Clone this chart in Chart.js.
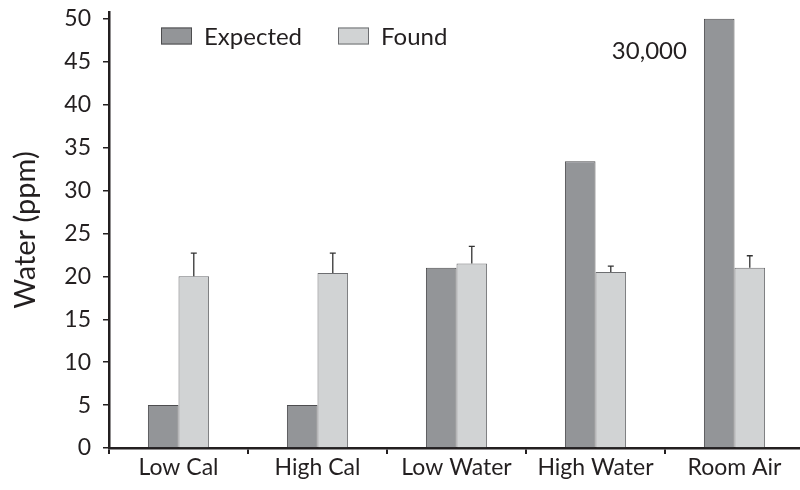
<!DOCTYPE html>
<html>
<head>
<meta charset="utf-8">
<script src="https://cdn.jsdelivr.net/npm/chart.js@4/dist/chart.umd.min.js"></script>
<style>
  html, body { margin: 0; padding: 0; background: #fff; overflow: hidden; }
  #wrap { width: 800px; height: 490px; overflow: hidden; }
</style>
</head>
<body>
<div id="wrap"><canvas id="waterChart" width="804" height="490"></canvas></div>
<script>
// Data
const categories = ['Low Cal', 'High Cal', 'Low Water', 'High Water', 'Room Air'];
const expectedValues = [5, 5, 21, 33.4, 50];
const foundValues = [20, 20.4, 21.5, 20.5, 21];
const foundErrors = [2.7, 2.3, 2.0, 0.7, 1.4];
const yTicks = [0, 5, 10, 15, 20, 25, 30, 35, 40, 45, 50];
const roomAirNote = '30,000';

const FONT = 'Lato, "Open Sans", sans-serif';
const INK = '#231f20';

// Error bars (upward only) on the Found series
const errorBars = {
    id: 'errorBars',
    afterDatasetsDraw(chart) {
        const ctx = chart.ctx;
        const y = chart.scales.y;
        const meta = chart.getDatasetMeta(1);
        ctx.save();
        ctx.strokeStyle = '#333';
        ctx.lineWidth = 1.3;
        meta.data.forEach((bar, i) => {
            const top = y.getPixelForValue(foundValues[i] + foundErrors[i]);
            const base = y.getPixelForValue(foundValues[i]);
            ctx.beginPath();
            ctx.moveTo(bar.x, base);
            ctx.lineTo(bar.x, top);
            ctx.moveTo(bar.x - 3, top);
            ctx.lineTo(bar.x + 3, top);
            ctx.stroke();
        });
        ctx.restore();
    }
};

// Note beside the Room Air Expected bar (its real value is off the scale)
const barNote = {
    id: 'barNote',
    afterDatasetsDraw(chart) {
        const ctx = chart.ctx;
        const bar = chart.getDatasetMeta(0).data[4];
        const y = chart.scales.y.getPixelForValue(46.2);
        ctx.save();
        ctx.font = '24px ' + FONT;
        ctx.fillStyle = INK;
        ctx.textAlign = 'right';
        ctx.textBaseline = 'middle';
        ctx.fillText(roomAirNote, bar.x - bar.width / 2 - 17, y);
        ctx.restore();
    }
};

// Legend drawn inside the plot area
const innerLegend = {
    id: 'innerLegend',
    afterDraw(chart) {
        const ctx = chart.ctx;
        const area = chart.chartArea;
        const items = [
            { ds: chart.data.datasets[0], x: area.left + 52 },
            { ds: chart.data.datasets[1], x: area.left + 229 }
        ];
        const yMid = 36;
        ctx.save();
        ctx.font = '24px ' + FONT;
        ctx.textBaseline = 'middle';
        ctx.textAlign = 'left';
        items.forEach(item => {
            ctx.fillStyle = item.ds.backgroundColor;
            ctx.fillRect(item.x, yMid - 8.5, 31, 17);
            ctx.strokeStyle = item.ds.borderColor;
            ctx.lineWidth = 1;
            ctx.strokeRect(item.x + 0.5, yMid - 8, 30, 16);
            ctx.fillStyle = INK;
            ctx.fillText(item.ds.label, item.x + 43, yMid + 1);
        });
        ctx.restore();
    }
};

const ctx = document.getElementById('waterChart').getContext('2d');
new Chart(ctx, {
    type: 'bar',
    data: {
        labels: categories,
        datasets: [{
            label: 'Expected',
            data: expectedValues,
            backgroundColor: '#939598',
            borderColor: '#4d4d4f',
            borderWidth: 1,
            borderSkipped: 'bottom'
        }, {
            label: 'Found',
            data: foundValues,
            backgroundColor: '#d1d3d4',
            borderColor: '#6d6e71',
            borderWidth: 1,
            borderSkipped: 'bottom'
        }]
    },
    options: {
        responsive: false,
        animation: false,
        layout: { padding: { top: 12, right: 0, bottom: 0, left: 0 } },
        datasets: {
            bar: { categoryPercentage: 0.44, barPercentage: 1 }
        },
        plugins: {
            legend: { display: false },
            tooltip: { enabled: false }
        },
        scales: {
            x: {
                grid: {
                    offset: true,
                    drawOnChartArea: false,
                    drawTicks: true,
                    tickLength: 6,
                    color: INK,
                    lineWidth: 2
                },
                border: { color: INK, width: 2.5 },
                ticks: {
                    color: INK,
                    font: { family: FONT, size: 23 },
                    padding: 0,
                    maxRotation: 0,
                    autoSkip: false
                },
                afterFit(scale) {
                    scale.height = 42;
                    scale.paddingLeft = 0;
                    scale.paddingRight = 0;
                }
            },
            y: {
                min: 0,
                max: 50.8,
                afterBuildTicks(scale) { scale.ticks = yTicks.map(v => ({ value: v })); },
                grid: {
                    drawOnChartArea: false,
                    drawTicks: true,
                    tickLength: 6,
                    color: INK,
                    lineWidth: 1.5
                },
                border: { color: INK, width: 2.5 },
                ticks: {
                    color: INK,
                    font: { family: FONT, size: 23 },
                    padding: 12
                },
                title: {
                    display: true,
                    text: 'Water (ppm)',
                    color: INK,
                    font: { family: FONT, size: 29 },
                    padding: { top: 8, bottom: 0 }
                },
                afterFit(scale) {
                    scale.width = 109;
                    scale.paddingTop = 0;
                    scale.paddingBottom = 0;
                }
            }
        }
    },
    plugins: [errorBars, barNote, innerLegend]
});
</script>
</body>
</html>
